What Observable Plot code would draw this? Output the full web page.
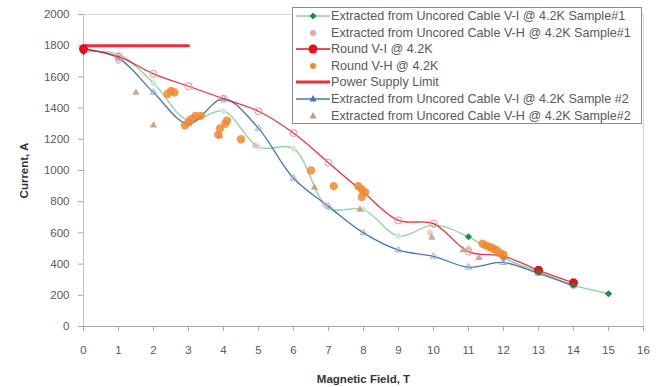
<!DOCTYPE html>
<html><head><meta charset="utf-8">
<script src="https://cdn.jsdelivr.net/npm/d3@7"></script>
<script src="https://cdn.jsdelivr.net/npm/@observablehq/plot@0.6"></script>
<style>
body{margin:0;background:#fff;font-family:"Liberation Sans",Arial,sans-serif;}
#wrap{position:relative;width:664px;height:387px;}
#legend{position:absolute;left:292px;top:7px;width:350px;height:117px;background:#fff;border:1px solid #8c8c8c;box-sizing:border-box;font-size:12.6px;color:#595959;}
.row{position:absolute;left:0;height:16px;line-height:16px;white-space:nowrap;}
.row svg{position:absolute;left:3px;top:0;}
.row span{position:absolute;left:38px;top:0;}
svg text{fill:#595959;}
g[aria-label="x-axis label"] text, g[aria-label="y-axis label"] text{font-weight:bold;fill:#333;}
</style></head>
<body><div id="wrap"><div id="chart"></div><div id="legend"></div></div>
<script>
const ticksX = d3.range(0, 17);
const ticksY = d3.range(0, 2001, 200);

// Extracted from Uncored Cable V-I @ 4.2K Sample#1
const s1viField = [0,1,2,3,4,5,6,7,8,9,10,11,12,13,14,15];
const s1viCurrent = [1760,1745,1560,1320,1380,1150,1140,760,750,580,650,575,440,350,265,210];
// Extracted from Uncored Cable V-H @ 4.2K Sample#1
const s1vhField = [1.0,3.0,4.9,6.9,9.9,11.0];
const s1vhCurrent = [1700,1330,1160,780,600,500];
// Round V-I @ 4.2K
const roundViField = [0,1,2,3,4,5,6,7,8,9,10,11,12,13,14];
const roundViCurrent = [1780,1730,1620,1540,1460,1380,1240,1050,860,680,660,480,450,360,280];
// Round V-H @ 4.2K
const roundVhField = [2.4,2.5,2.6,2.9,3.0,3.1,3.2,3.35,3.85,3.9,4.05,4.1,4.5,6.5,7.15,7.85,7.95,8.05,7.95,11.4,11.5,11.6,11.7,11.8,11.9,12.0];
const roundVhCurrent = [1490,1510,1500,1290,1310,1330,1350,1350,1230,1270,1300,1320,1200,1000,900,900,880,860,830,530,520,510,500,490,470,460];
// Power Supply Limit
const psField = [0,3];
const psCurrent = [1800,1800];
// Extracted from Uncored Cable V-I @ 4.2K Sample #2
const s2viField = [0,1,2,3,4,5,6,7,8,9,10,11,12,13,14];
const s2viCurrent = [1780,1720,1500,1300,1460,1270,950,770,600,490,450,380,410,340,260];
// Extracted from Uncored Cable V-H @ 4.2K Sample#2
const s2vhField = [1.5,2.0,3.9,6.6,7.9,9.95,10.85,11.3];
const s2vhCurrent = [1500,1290,1220,890,750,570,490,440];

const legendLabels = [
  "Extracted from Uncored Cable V-I @ 4.2K Sample#1",
  "Extracted from Uncored Cable V-H @ 4.2K Sample#1",
  "Round V-I @ 4.2K",
  "Round V-H @ 4.2K",
  "Power Supply Limit",
  "Extracted from Uncored Cable V-I @ 4.2K Sample #2",
  "Extracted from Uncored Cable V-H @ 4.2K Sample#2"
];

const C = {green:"#1e8c4e", greenLine:"#8fd19a", pink:"#e6a3ad", red:"#e3101e", orange:"#f08a30", ps:"#e8303e", blue:"#4a74b4", tan:"#c49a7c"};

const pts = (xs, ys) => xs.map((x, i) => ({x, y: ys[i]}));
const s1vi = pts(s1viField, s1viCurrent);
const s1vh = pts(s1vhField, s1vhCurrent);
const rvi = pts(roundViField, roundViCurrent);
const rvh = pts(roundVhField, roundVhCurrent);
const ps = pts(psField, psCurrent);
const s2vi = pts(s2viField, s2viCurrent);
const s2vh = pts(s2vhField, s2vhCurrent);

const chart = Plot.plot({
  width: 664, height: 387,
  marginLeft: 83, marginRight: 21, marginTop: 14, marginBottom: 61,
  style: {fontFamily: '"Liberation Sans", Arial, sans-serif', fontSize: "11px", color: "#595959"},
  x: {domain: [0, 16]},
  y: {domain: [0, 2000]},
  marks: [
    Plot.frame({stroke: "#d9d9d9"}),
    Plot.ruleY([0], {stroke: "#a6a6a6"}),
    Plot.ruleX([0], {stroke: "#bfbfbf"}),
    Plot.axisX({ticks: ticksX, tickSize: 5, tickPadding: 14, stroke: "#a6a6a6", fontSize: 11.5,
      label: "Magnetic Field, T", labelAnchor: "center", labelArrow: "none", labelOffset: 56}),
    Plot.axisY({ticks: ticksY, tickSize: 5, tickPadding: 9, stroke: "#a6a6a6", fontSize: 11.5, tickFormat: d3.format("d"),
      label: "Current, A", labelAnchor: "center", labelArrow: "none", labelOffset: 64}),
    // power supply limit
    Plot.line(ps, {x: "x", y: "y", stroke: C.ps, strokeWidth: 3}),
    // green sample 1
    Plot.line(s1vi, {x: "x", y: "y", stroke: C.greenLine, strokeWidth: 1.3, curve: "catmull-rom"}),
    Plot.dot(s1vi, {x: "x", y: "y", symbol: "diamond2", r: 3.2, fill: d => d.x >= 11 || d.x === 0 ? C.green : "#cfe9d6", stroke: "none"}),
    // blue sample 2
    Plot.line(s2vi, {x: "x", y: "y", stroke: C.blue, strokeWidth: 1.3, curve: "catmull-rom"}),
    Plot.dot(s2vi, {x: "x", y: "y", symbol: "triangle2", r: 3, fill: "none", stroke: "#8fa8d4", strokeWidth: 1}),
    // red round V-I
    Plot.line(rvi, {x: "x", y: "y", stroke: C.red, strokeWidth: 1.3, curve: "catmull-rom", strokeOpacity: 0.85}),
    Plot.dot(rvi.filter(d => d.x < 13 && d.x > 0), {x: "x", y: "y", r: 3.5, fill: "none", stroke: "#f08b94", strokeWidth: 1}),
    // V-H scatters
    Plot.dot(s1vh, {x: "x", y: "y", r: 3, fill: C.pink, fillOpacity: 0.6}),
    Plot.dot(s2vh, {x: "x", y: "y", symbol: "triangle2", r: 3.6, fill: C.tan, fillOpacity: 0.85}),
    Plot.dot(rvh, {x: "x", y: "y", r: 4.2, fill: C.orange, fillOpacity: 0.85}),
    Plot.dot(rvi.filter(d => d.x >= 13 || d.x === 0), {x: "x", y: "y", r: 4.5, fill: C.red}),
    Plot.dot(s1vi.filter(d => d.x >= 13), {x: "x", y: "y", symbol: "diamond2", r: 3, fill: C.green, fillOpacity: 0.8})
  ]
});
document.getElementById("chart").appendChild(chart);

// legend
const legendSym = [
  {line: C.greenLine, sym: "diamond", col: C.green},
  {line: null, sym: "circle", col: C.pink},
  {line: C.red, sym: "circle", col: C.red, big: true},
  {line: null, sym: "circle", col: C.orange},
  {line: C.ps, width: 3, sym: null},
  {line: C.blue, sym: "triangle", col: C.blue},
  {line: null, sym: "triangle", col: C.tan}
];
const lg = document.getElementById("legend");
legendLabels.forEach((t, i) => {
  const row = document.createElement("div");
  row.className = "row";
  row.style.top = (0 + i * 16.6) + "px";
  const s = legendSym[i];
  let svg = `<svg width="34" height="16">`;
  if (s.line) svg += `<line x1="0" x2="34" y1="8" y2="8" stroke="${s.line}" stroke-width="${s.width || 1.3}"/>`;
  if (s.sym === "circle") svg += `<circle cx="17" cy="8" r="${s.big ? 4.5 : 3}" fill="${s.col}"/>`;
  if (s.sym === "diamond") svg += `<path d="M17,4.5L20.5,8L17,11.5L13.5,8Z" fill="${s.col}"/>`;
  if (s.sym === "triangle") svg += `<path d="M17,4L20.5,10.5L13.5,10.5Z" fill="${s.col}"/>`;
  svg += `</svg>`;
  row.innerHTML = svg + `<span>${t}</span>`;
  lg.appendChild(row);
});
</script></body></html>
